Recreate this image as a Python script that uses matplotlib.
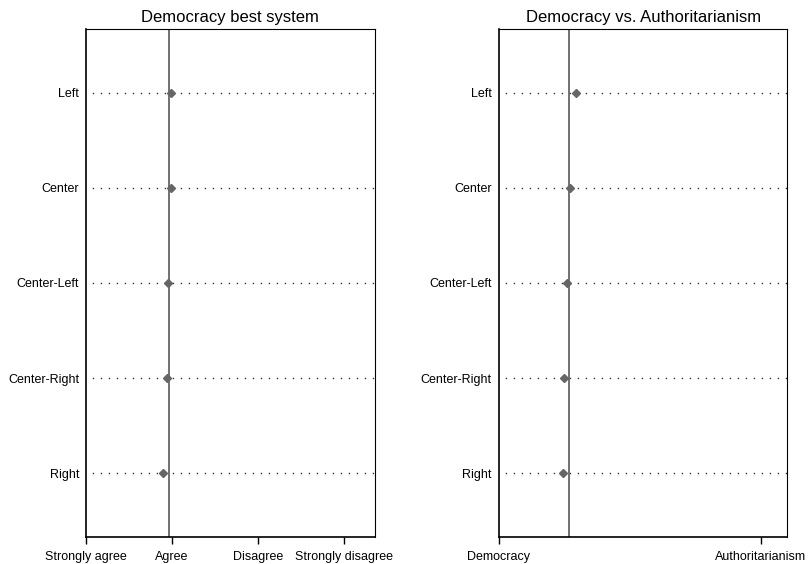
import matplotlib
matplotlib.use("Agg")
import matplotlib.pyplot as plt

plt.rcParams["font.family"] = ["Liberation Sans", "DejaVu Sans"]

groups = ["Right", "Center-Right", "Center-Left", "Center", "Left"]

# Democracy best system (1 = strongly agree ... 4 = strongly disagree)
best_values = [1.90, 1.94, 1.95, 1.99, 1.99]
best_ref = 1.965
best_ticks = [1, 2, 3, 4]
best_labels = ["Strongly agree", "Agree", "Disagree", "Strongly disagree"]

# Democracy vs. Authoritarianism (1 = democracy, 2 = authoritarianism)
auth_values = [1.244, 1.248, 1.26, 1.271, 1.294]
auth_ref = 1.267
auth_ticks = [1, 2]
auth_labels = ["Democracy", "Authoritarianism"]

fig = plt.figure(figsize=(8.11, 5.64), dpi=100)
ax1 = fig.add_axes([0.106, 0.048, 0.356, 0.901])
ax2 = fig.add_axes([0.615, 0.048, 0.356, 0.901])

panels = [
    (ax1, "Democracy best system", best_values, best_ref, best_ticks, best_labels, (1, 4.36)),
    (ax2, "Democracy vs. Authoritarianism", auth_values, auth_ref, auth_ticks, auth_labels, (1, 2.103)),
]

for ax, title, values, ref, ticks, labels, xlim in panels:
    ypos = list(range(1, len(groups) + 1))
    for y in ypos:
        ax.axhline(y, color="#333333", linestyle=(-4.5, (1, 4.76)), linewidth=1.0, zorder=1)
    ax.axvline(ref, color="#666666", linewidth=1.3, zorder=2)
    ax.plot(values, ypos, linestyle="none", marker="D", markersize=4.5,
            color="#666666", zorder=3)
    ax.set_xlim(*xlim)
    ax.set_ylim(0.33, 5.67)
    ax.set_yticks(ypos)
    ax.set_yticklabels(groups, fontsize=9)
    ax.tick_params(axis="y", length=0, pad=5)
    ax.set_xticks(ticks)
    ax.set_xticklabels(labels, fontsize=9)
    ax.tick_params(axis="x", direction="out", length=5, width=1, pad=5)
    for side in ["top", "right"]:
        ax.spines[side].set_linewidth(0.8)
    for side in ["left", "bottom"]:
        ax.spines[side].set_linewidth(1.2)
    ax.set_title(title, fontsize=12, pad=5)

fig.savefig("out.png", dpi=100)
